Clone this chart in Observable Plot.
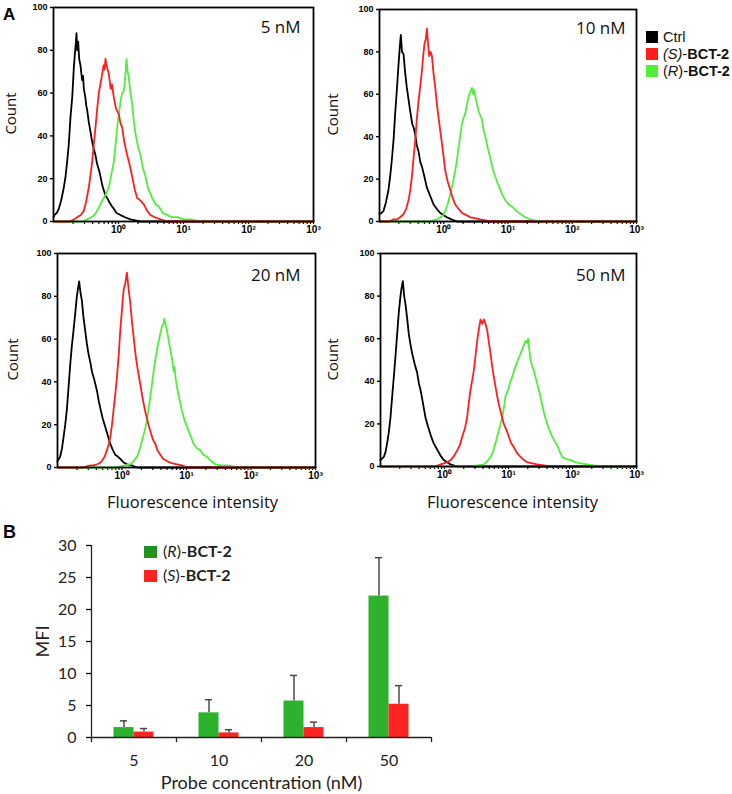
<!DOCTYPE html>
<html>
<head>
<meta charset="utf-8">
<script src="https://cdn.jsdelivr.net/npm/d3@7"></script>
<script src="https://cdn.jsdelivr.net/npm/@observablehq/plot@0.6"></script>
<style>
  body { margin: 0; background: #fff; }
  #root { position: relative; width: 732px; height: 794px; overflow: hidden; background: #fff; }
  #root svg { overflow: visible; }
</style>
</head>
<body>
<div id="root"></div>
<script>
// ---------------- DATA ----------------
// Panel A: flow cytometry histograms, points are [log10(fluorescence intensity), count]
const panelLabels = ["5 nM", "10 nM", "20 nM", "50 nM"];
const seriesNames = ["Ctrl", "(S)-BCT-2", "(R)-BCT-2"];

const ctrl5 = [[-1,2],[-0.985,3],[-0.95,4],[-0.918,6],[-0.88,10],[-0.841,16],[-0.815,21],[-0.79,28],[-0.765,36],[-0.738,49],[-0.712,58],[-0.687,72],[-0.667,80],[-0.655,84],[-0.646,88],[-0.635,80],[-0.62,84],[-0.605,76],[-0.585,73],[-0.56,66],[-0.545,68],[-0.533,62],[-0.51,58],[-0.495,54],[-0.482,52],[-0.455,46],[-0.431,42],[-0.41,38],[-0.39,35],[-0.354,31],[-0.33,27],[-0.3,24],[-0.277,21],[-0.25,17],[-0.22,14],[-0.2,12],[-0.174,11],[-0.14,9],[-0.1,7],[-0.072,6],[-0.03,4],[0.031,3],[0.1,2],[0.185,1],[0.338,0],[3,0]];
const s5 = [[-1,0],[-0.75,0],[-0.68,1],[-0.636,2],[-0.58,3],[-0.533,5],[-0.5,9],[-0.456,16],[-0.43,22],[-0.405,28],[-0.38,36],[-0.354,44],[-0.33,52],[-0.303,60],[-0.28,64],[-0.251,69],[-0.23,73],[-0.215,71],[-0.2,76],[-0.185,73],[-0.149,69],[-0.12,62],[-0.1,64],[-0.072,58],[-0.04,53],[0.005,50],[0.03,46],[0.056,44],[0.09,37],[0.133,31],[0.16,28],[0.21,21],[0.25,15],[0.287,11],[0.33,10],[0.39,8],[0.44,5],[0.492,3],[0.56,2],[0.646,1],[0.749,0],[3,0]];
const r5 = [[-1,0],[-0.55,0],[-0.482,1],[-0.42,2],[-0.37,3],[-0.328,5],[-0.28,8],[-0.226,11],[-0.19,13],[-0.149,16],[-0.11,22],[-0.072,28],[-0.045,36],[-0.021,44],[0.005,50],[0.031,56],[0.055,60],[0.082,61],[0.1,66],[0.123,76],[0.14,70],[0.159,67],[0.185,60],[0.21,55],[0.235,47],[0.262,41],[0.3,35],[0.338,31],[0.375,25],[0.415,21],[0.46,15],[0.518,11],[0.57,8],[0.621,7],[0.68,4],[0.749,3],[0.82,2],[0.903,2],[1.0,1],[1.108,1],[1.262,0],[3,0]];

const ctrl10 = [[-1,3.5],[-0.97,4],[-0.938,5],[-0.9,9],[-0.86,15],[-0.835,21],[-0.808,29],[-0.78,39],[-0.756,51],[-0.73,62],[-0.704,74],[-0.685,82],[-0.668,88],[-0.65,80],[-0.626,79],[-0.6,70],[-0.574,63],[-0.55,58],[-0.522,52],[-0.49,46],[-0.465,44],[-0.444,41],[-0.42,36],[-0.392,33],[-0.365,28],[-0.34,26],[-0.3,21],[-0.262,16],[-0.21,12],[-0.158,8],[-0.11,6],[-0.055,4],[0,3],[0.049,2],[0.12,1],[0.205,0],[3,0]];
const s10 = [[-1,0],[-0.85,0],[-0.78,1],[-0.73,1],[-0.68,2],[-0.626,3.5],[-0.585,6],[-0.548,10],[-0.52,15],[-0.496,21],[-0.47,30],[-0.444,38],[-0.42,48],[-0.392,57],[-0.365,64],[-0.34,71],[-0.32,78],[-0.299,84],[-0.28,86],[-0.262,91],[-0.245,84],[-0.226,78],[-0.205,80],[-0.184,78],[-0.16,70],[-0.132,63],[-0.105,55],[-0.081,49],[-0.055,43],[-0.029,37],[0,30],[0.023,24],[0.06,19],[0.101,15],[0.14,11],[0.179,8],[0.23,6],[0.283,4],[0.35,3],[0.413,2],[0.5,1.5],[0.569,1],[0.65,0.5],[0.725,0],[3,0]];
const r10 = [[-1,0],[-0.2,0],[-0.158,0.5],[-0.1,1],[-0.055,2],[-0.01,3],[0.023,5],[0.06,8],[0.101,13],[0.14,18],[0.179,24],[0.205,29],[0.231,35],[0.26,41],[0.283,46],[0.31,49],[0.335,51],[0.36,55],[0.387,59],[0.41,61],[0.439,63],[0.46,60],[0.475,62],[0.491,59],[0.52,55],[0.543,52],[0.57,50],[0.595,48],[0.62,43],[0.647,40],[0.69,34],[0.725,30],[0.76,25],[0.803,21],[0.84,18],[0.881,15],[0.92,12],[0.958,10],[1.01,8],[1.062,7],[1.13,5],[1.192,3.5],[1.27,2],[1.348,1],[1.42,0.5],[1.504,0],[3,0]];

const ctrl20 = [[-1,3],[-0.959,5],[-0.93,9],[-0.907,14],[-0.88,20],[-0.855,27],[-0.83,37],[-0.803,48],[-0.78,56],[-0.752,64],[-0.725,72],[-0.7,80],[-0.68,84],[-0.664,87],[-0.645,82],[-0.622,78],[-0.6,71],[-0.571,64],[-0.545,58],[-0.519,53],[-0.49,49],[-0.467,45],[-0.43,41],[-0.389,36],[-0.36,31],[-0.338,28],[-0.3,23],[-0.26,19],[-0.22,15],[-0.182,11],[-0.14,8],[-0.105,6],[-0.06,5],[-0.027,4],[0.02,2.5],[0.076,1.5],[0.15,1],[0.232,0],[3,0]];
const s20 = [[-1,0],[-0.6,0],[-0.55,0.5],[-0.493,1],[-0.44,1],[-0.389,1.5],[-0.35,2],[-0.312,3],[-0.27,5],[-0.234,8],[-0.205,11],[-0.182,14],[-0.155,20],[-0.131,27],[-0.105,34],[-0.079,42],[-0.05,53],[-0.027,64],[0,74],[0.025,83],[0.05,86],[0.076,91],[0.1,84],[0.128,77],[0.155,68],[0.18,61],[0.205,54],[0.232,48],[0.26,43],[0.283,39],[0.31,34],[0.335,30],[0.36,26],[0.387,23],[0.41,20],[0.439,17],[0.48,13],[0.516,11],[0.55,8],[0.594,6],[0.64,4],[0.697,3],[0.77,2],[0.853,1.5],[0.93,1],[1.008,0],[3,0]];
const r20 = [[-1,0],[-0.1,0],[-0.027,0.5],[0.05,1],[0.128,1.5],[0.18,3],[0.232,5],[0.27,8],[0.309,12.5],[0.35,17],[0.387,22],[0.41,27],[0.439,33],[0.465,39],[0.49,45],[0.515,50],[0.542,55],[0.57,59],[0.594,62.5],[0.62,66],[0.64,67],[0.656,69.5],[0.675,67],[0.697,64],[0.72,60],[0.749,55],[0.775,51],[0.801,45],[0.815,47],[0.83,42],[0.853,37.5],[0.89,32],[0.93,26.5],[0.97,22],[1.008,19],[1.06,15],[1.111,11],[1.16,9],[1.215,8],[1.26,6],[1.318,5],[1.38,3],[1.448,1.5],[1.54,1],[1.629,1],[1.73,0.5],[1.836,0],[3,0]];

const ctrl50 = [[-1,3],[-0.948,4.5],[-0.92,7],[-0.896,11],[-0.87,16],[-0.844,23],[-0.82,32],[-0.792,42],[-0.765,52],[-0.74,62],[-0.715,72],[-0.688,80],[-0.67,84],[-0.651,87],[-0.63,80],[-0.609,76],[-0.585,70],[-0.557,62],[-0.53,57],[-0.505,53],[-0.465,48],[-0.427,44],[-0.4,39],[-0.375,36],[-0.35,32],[-0.297,23],[-0.26,19],[-0.219,15],[-0.17,11],[-0.115,8],[-0.06,5],[-0.01,3],[0.04,2],[0.094,1],[0.198,0],[3,0]];
const s50 = [[-1,0],[-0.15,0],[-0.06,1],[-0.01,1.5],[0.04,2],[0.094,3],[0.15,5],[0.198,7.5],[0.24,10],[0.276,14],[0.32,18],[0.354,23],[0.38,30],[0.406,36],[0.43,40],[0.458,45],[0.485,52],[0.51,59],[0.535,64],[0.563,69],[0.59,67],[0.615,69],[0.64,67],[0.667,64],[0.69,59],[0.719,53],[0.745,47],[0.771,42],[0.8,37],[0.823,33],[0.85,29],[0.875,26],[0.9,23],[0.927,20],[0.97,17],[1.005,14],[1.04,11],[1.083,9],[1.14,6],[1.188,4.5],[1.24,3],[1.292,2],[1.37,1.5],[1.448,1],[1.55,0.5],[1.656,0],[3,0]];
const r50 = [[-1,0],[0.4,0],[0.51,0.5],[0.615,1],[0.67,2.5],[0.719,4.5],[0.76,7],[0.797,11],[0.849,17],[0.901,23],[0.93,28],[0.953,33],[0.98,35],[1.005,37],[1.03,40],[1.057,42],[1.085,45],[1.109,47],[1.135,49],[1.161,51],[1.19,53],[1.214,55],[1.24,57],[1.266,59],[1.29,58],[1.307,60],[1.325,55],[1.344,50],[1.37,47],[1.396,45],[1.42,42],[1.448,39],[1.49,34],[1.526,29],[1.565,24],[1.604,20],[1.64,17],[1.682,14],[1.72,12],[1.76,10],[1.8,7],[1.839,4.5],[1.9,3.5],[1.969,3],[2.05,2],[2.125,1.5],[2.23,1],[2.333,0.5],[2.542,0],[3,0]];

// Axis ticks for panel A
const countTicks = [0, 20, 40, 60, 80, 100];
const decadeTicks = [1, 10, 100, 1000];
const decadeLabels = ["10\u2070", "10\u00b9", "10\u00b2", "10\u00b3"];
const xDomainA = [0.1, 1000];

// Panel B: mean fluorescence intensity
const concentrationsNM = ["5", "10", "20", "50"];
const mfiR = [1.55, 3.85, 5.7, 22.1];
const mfiRErr = [1.05, 2.05, 4.0, 6.0];
const mfiS = [0.85, 0.72, 1.55, 5.2];
const mfiSErr = [0.55, 0.5, 0.85, 2.9];
const mfiTicks = [0, 5, 10, 15, 20, 25, 30];

// ---------------- STYLE ----------------
const C_CTRL = "#000000", C_S = "#ff1e1e", C_R = "#52ee3e";
const C_BAR_R = "#2cb22c", C_BAR_S = "#ff2424", C_ERR = "#4a4a4a";
const root = document.getElementById("root");
function place(node, left, top) {
  node.style.position = "absolute";
  node.style.left = left + "px";
  node.style.top = top + "px";
  root.appendChild(node);
}
const minorTicks = [0.1, 1, 10, 100].flatMap(d => [2,3,4,5,6,7,8,9].map(k => k * d));

function histPanel(p) {
  const [fx0, fx1, fy0, fy1] = p.frame;
  const marginLeft = fx0 - p.left, marginRight = p.left + p.width - fx1;
  const marginTop = fy0 - p.top, marginBottom = p.top + p.height - fy1;
  const lineOpts = (c) => ({x: d => 10 ** d[0], y: d => d[1], stroke: c, strokeWidth: 1.8, strokeLinejoin: "round"});
  const marks = [
    Plot.axisY(countTicks, {tickSize: 3, tickPadding: 3, fontSize: 9, fontWeight: "bold", fontFamily: "Liberation Sans", label: null, strokeWidth: 1.4}),
    Plot.axisX(minorTicks, {tickSize: 3, tickFormat: () => "", label: null, strokeWidth: 1.2}),
    Plot.axisX(decadeTicks, {tickSize: 3, tickPadding: 1, fontSize: 10, fontWeight: "bold", fontFamily: "Liberation Sans",
      tickFormat: (d) => decadeLabels[decadeTicks.indexOf(d)], label: null, strokeWidth: 1.2}),
    Plot.line(p.ctrl, lineOpts(C_CTRL)),
    Plot.line(p.r, lineOpts(C_R)),
    Plot.line(p.s, lineOpts(C_S)),
    Plot.frame({stroke: "#000", strokeWidth: 1.8}),
    Plot.text([p.label], {frameAnchor: "top-right", dx: p.labelRight - fx1, dy: p.labelBaseline - fy0,
      textAnchor: "end", lineAnchor: "bottom", fontSize: 17, fontFamily: "Open Sans", fill: "#111"}),
    Plot.text(["Count"], {frameAnchor: "left", rotate: -90, dx: p.countBaseline - fx0, dy: p.countCenter - (fy0 + fy1) / 2,
      textAnchor: "middle", lineAnchor: "bottom", fontSize: 15, fontFamily: "Open Sans", fill: "#111"})
  ];
  if (p.xTitle) {
    marks.push(Plot.text(["Fluorescence intensity"], {frameAnchor: "bottom", dx: p.xTitleCenter - (fx0 + fx1) / 2,
      dy: p.xTitleBaseline - fy1, textAnchor: "middle", lineAnchor: "bottom", fontSize: 16.5, fontFamily: "Open Sans", fill: "#111"}));
  }
  const svg = Plot.plot({
    width: p.width, height: p.height,
    marginLeft, marginRight, marginTop, marginBottom,
    x: {type: "log", domain: xDomainA},
    y: {domain: [0, 100]},
    style: "background: transparent; color: #000; overflow: visible; font-family: 'Liberation Sans';",
    marks
  });
  place(svg, p.left, p.top);
}

histPanel({left: 0, top: 0, width: 330, height: 240, frame: [53, 313, 7, 221], label: panelLabels[0],
  labelRight: 300, labelBaseline: 32, countBaseline: 15, countCenter: 113, ctrl: ctrl5, s: s5, r: r5});
histPanel({left: 330, top: 0, width: 402, height: 240, frame: [379, 636, 9, 221], label: panelLabels[1],
  labelRight: 625, labelBaseline: 33, countBaseline: 337, countCenter: 114, ctrl: ctrl10, s: s10, r: r10});
histPanel({left: 0, top: 240, width: 330, height: 280, frame: [57, 315, 253, 467], label: panelLabels[2],
  labelRight: 300, labelBaseline: 280, countBaseline: 17, countCenter: 359, ctrl: ctrl20, s: s20, r: r20,
  xTitle: true, xTitleCenter: 192, xTitleBaseline: 507});
histPanel({left: 330, top: 240, width: 402, height: 280, frame: [380, 636, 253, 466], label: panelLabels[3],
  labelRight: 625, labelBaseline: 280, countBaseline: 337, countCenter: 359, ctrl: ctrl50, s: s50, r: r50,
  xTitle: true, xTitleCenter: 512, xTitleBaseline: 507});

// ---------------- PANEL B ----------------
(function () {
  const left = 0, top = 520, width = 460, height = 274;
  const fx0 = 91, fx1 = 431, fy0 = 545, fy1 = 737;
  const rows = concentrationsNM.map((c, i) => ({c, r: mfiR[i], rErr: mfiRErr[i], s: mfiS[i], sErr: mfiSErr[i]}));
  const bw = (fx1 - fx0) / concentrationsNM.length;
  const barW = 20, off = 10, capW = 7;
  const svg = Plot.plot({
    width, height,
    marginLeft: fx0 - left, marginRight: left + width - fx1, marginTop: fy0 - top, marginBottom: top + height - fy1,
    x: {domain: concentrationsNM, padding: 0},
    y: {domain: [0, 30]},
    style: "background: transparent; color: #000; overflow: visible; font-family: Lato;",
    marks: [
      Plot.axisY(mfiTicks, {tickSize: 5, tickPadding: 10, fontSize: 16, fontFamily: "Lato", label: null, fill: "#222", strokeWidth: 1.3}),
      Plot.axisX({tickSize: 0, tickPadding: 17, fontSize: 16, fontFamily: "Lato", label: null, fill: "#222"}),
      Plot.barY(rows, {x: "c", y: "r", fill: C_BAR_R, insetLeft: bw / 2 - barW, insetRight: bw / 2}),
      Plot.barY(rows, {x: "c", y: "s", fill: C_BAR_S, insetLeft: bw / 2, insetRight: bw / 2 - barW}),
      Plot.ruleX(rows, {x: "c", y1: "r", y2: d => d.r + d.rErr, dx: -off, stroke: C_ERR, strokeWidth: 1.5}),
      Plot.tickY(rows, {x: "c", y: d => d.r + d.rErr, insetLeft: bw / 2 - off - capW / 2, insetRight: bw / 2 + off - capW / 2, stroke: C_ERR, strokeWidth: 1.5}),
      Plot.ruleX(rows, {x: "c", y1: "s", y2: d => d.s + d.sErr, dx: off, stroke: C_ERR, strokeWidth: 1.5}),
      Plot.tickY(rows, {x: "c", y: d => d.s + d.sErr, insetLeft: bw / 2 + off - capW / 2, insetRight: bw / 2 - off - capW / 2, stroke: C_ERR, strokeWidth: 1.5}),
      Plot.ruleY([0], {stroke: "#222", strokeWidth: 1.3}),
      Plot.ruleX(concentrationsNM.slice(0, 1), {x: d => d, dx: -bw / 2, y1: 0, y2: 30, stroke: "#222", strokeWidth: 1.3}),
      Plot.ruleX(concentrationsNM, {x: d => d, dx: -bw / 2, y1: 0, y2: -0.8, stroke: "#222", strokeWidth: 1.3}),
      Plot.ruleX(concentrationsNM.slice(-1), {x: d => d, dx: bw / 2, y1: 0, y2: -0.8, stroke: "#222", strokeWidth: 1.3}),
      Plot.text(["Probe concentration (nM)"], {frameAnchor: "bottom", dy: 788 - fy1, textAnchor: "middle", lineAnchor: "bottom",
        fontSize: 18, fontFamily: "Lato", fill: "#222"}),
      Plot.text(["MFI"], {frameAnchor: "left", rotate: -90, dx: 48 - fx0, textAnchor: "middle", lineAnchor: "bottom",
        fontSize: 18, fontFamily: "Lato", fill: "#222"})
    ]
  });
  place(svg, left, top);
})();

// ---------------- PANEL LETTERS AND LEGENDS ----------------
const overlay = d3.create("svg").attr("width", 732).attr("height", 794)
  .style("position", "absolute").style("left", "0px").style("top", "0px").style("pointer-events", "none");
overlay.append("text").attr("x", 3).attr("y", 20).text("A")
  .attr("font-family", "Liberation Sans").attr("font-weight", "bold").attr("font-size", 17);
overlay.append("text").attr("x", 3).attr("y", 538).text("B")
  .attr("font-family", "Liberation Sans").attr("font-weight", "bold").attr("font-size", 18);

// Legend A
const legendA = [
  {color: C_CTRL, parts: [["Ctrl", "normal", "normal"]]},
  {color: C_S, parts: [["(S)", "italic", "normal"], ["-", "normal", "normal"], ["BCT-2", "normal", "bold"]]},
  {color: C_R, parts: [["(", "normal", "normal"], ["R", "italic", "normal"], [")-", "normal", "normal"], ["BCT-2", "normal", "bold"]]}
];
legendA.forEach((item, i) => {
  const y0 = 31 + i * 17;
  overlay.append("rect").attr("x", 646).attr("y", y0).attr("width", 12).attr("height", 12).attr("fill", item.color);
  const t = overlay.append("text").attr("x", 663).attr("y", y0 + 11)
    .attr("font-family", "Liberation Sans").attr("font-size", 14.5).attr("fill", "#111");
  item.parts.forEach(([s, st, w]) => t.append("tspan").text(s).attr("font-style", st).attr("font-weight", w));
});

// Legend B
const legendB = [
  {color: "#1f921f", parts: [["(", "normal", "normal"], ["R", "italic", "normal"], [")-", "normal", "normal"], ["BCT-2", "normal", "bold"]]},
  {color: C_BAR_S, parts: [["(", "normal", "normal"], ["S", "italic", "normal"], [")-", "normal", "normal"], ["BCT-2", "normal", "bold"]]}
];
legendB.forEach((item, i) => {
  const y0 = 546 + i * 24;
  overlay.append("rect").attr("x", 144).attr("y", y0).attr("width", 13).attr("height", 12).attr("fill", item.color);
  const t = overlay.append("text").attr("x", 163).attr("y", y0 + 11)
    .attr("font-family", "Lato").attr("font-size", 16).attr("fill", "#222");
  item.parts.forEach(([s, st, w]) => t.append("tspan").text(s).attr("font-style", st).attr("font-weight", w));
});
root.appendChild(overlay.node());
</script>
</body>
</html>
